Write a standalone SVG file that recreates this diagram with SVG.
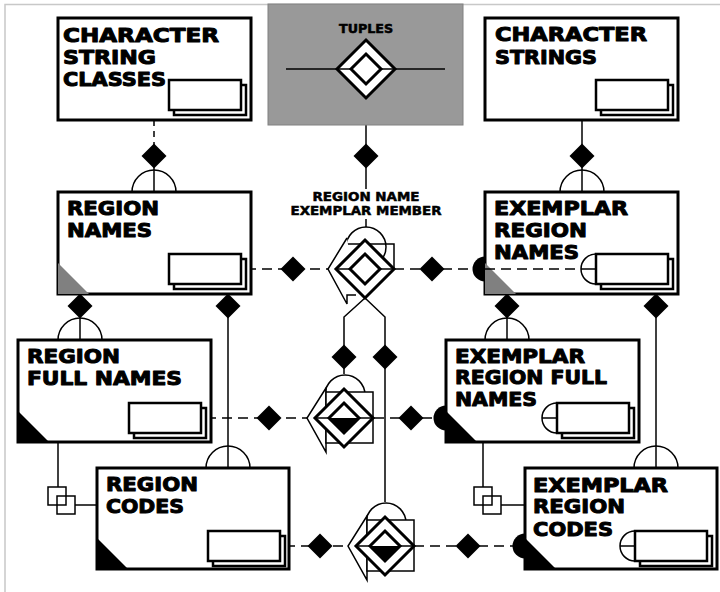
<svg xmlns="http://www.w3.org/2000/svg" width="720" height="592" viewBox="0 0 720 592">
<style>
.frame{fill:none;stroke:#c8c8c8;stroke-width:1.5}
.box{fill:#fff;stroke:#000;stroke-width:3}
.stk{fill:#fff;stroke:#000;stroke-width:2.5}
.ln{fill:none;stroke:#000;stroke-width:1.5}
.dash{fill:none;stroke:#000;stroke-width:1.5;stroke-dasharray:10 6}
.thick{fill:#fff;stroke:#000;stroke-width:3}
.lbl{font-family:"DejaVu Sans","Liberation Sans",sans-serif;font-weight:bold;font-size:19px;fill:#000;stroke:#000;stroke-width:1;stroke-linejoin:round}
.sm{font-family:"DejaVu Sans","Liberation Sans",sans-serif;font-weight:bold;font-size:11.5px;fill:#000;stroke:#000;stroke-width:0.5;text-anchor:middle}
.gtri{fill:#808080}
.btri{fill:#000}
</style>
<defs>
  <polygon id="dia" points="0,-12.5 12.5,0 0,12.5 -12.5,0" fill="#000"/>
  <g id="stack">
    <rect x="5" y="5" width="72" height="30" class="stk"/>
    <rect x="0" y="0" width="72" height="30" class="stk"/>
  </g>
  <path id="cap" d="M-22,0 A22,22 0 0 1 22,0" class="ln"/>
  <path id="disc" d="M0,-12.5 A12.5,12.5 0 0 0 0,12.5 Z" fill="#000"/>
  <path id="half" d="M0,-15 A15,15 0 0 0 0,15 M-15,0 H0" class="ln"/>
  <polygon id="tri" points="0,-31 0,0 31,0"/>
  <!-- ring, tag and outer diamond of the subtype symbols -->
  <g id="member">
    <circle cx="1" cy="-23" r="20" class="ln"/>
    <polygon points="-18,-30 -37,0 -18,34" fill="#fff" stroke="#000" stroke-width="1.5"/>
    <rect x="-18" y="-26" width="47" height="51" fill="#fff" stroke="#000" stroke-width="1.5"/>
    <polygon points="0,-29 29,0 0,29 -29,0" class="thick"/>
    <line x1="-29" y1="0" x2="29" y2="0" class="ln"/>
  </g>
  <polygon id="outer" points="0,-29 29,0 0,29 -29,0" class="thick"/>
  <polygon id="inner" points="0,-15 15,0 0,15 -15,0" class="thick"/>
  <g id="innerHalf">
    <polygon points="0,-15 15,0 0,15 -15,0" fill="#fff"/>
    <polygon points="-15,0 15,0 0,15" fill="#000"/>
    <polygon points="0,-15 15,0 0,15 -15,0" fill="none" stroke="#000" stroke-width="3"/>
  </g>
  <g id="sq2">
    <rect x="0" y="0" width="18" height="18" class="ln"/>
    <rect x="9" y="9" width="18" height="18" class="ln"/>
  </g>
</defs>

<path class="frame" d="M5,592 V4.5 H720"/>

<!-- connectors -->
<g id="connectors">
  <!-- vertical links -->
  <line x1="154" y1="120" x2="154" y2="146" class="ln" stroke-dasharray="6 5"/>
  <line x1="154" y1="166" x2="154" y2="192" class="ln"/>
  <line x1="366" y1="98" x2="366" y2="189" class="ln"/>
  <line x1="366" y1="219" x2="366" y2="227" class="ln"/>
  <line x1="582" y1="120" x2="582" y2="192" class="ln"/>
  <line x1="80" y1="294" x2="80" y2="340" class="ln"/>
  <line x1="228" y1="294" x2="228" y2="468" class="ln"/>
  <line x1="507" y1="294" x2="507" y2="340" class="ln"/>
  <line x1="656" y1="294" x2="656" y2="468" class="ln"/>
  <polyline points="365,298 344,317 344,374" class="ln"/>
  <polyline points="365,298 385,317 385,502" class="ln"/>
  <polyline points="58,442 58,487" class="ln"/>
  <polyline points="75,505 97,505" class="ln"/>
  <polyline points="483,442 483,487" class="ln"/>
  <polyline points="501,505 525,505" class="ln"/>
  <!-- horizontal links -->
  <line x1="246" y1="269" x2="328" y2="269" class="dash"/>
  <line x1="394" y1="269" x2="581" y2="269" class="dash"/>
  <line x1="206" y1="418" x2="308" y2="418" class="dash"/>
  <line x1="374" y1="418" x2="446" y2="418" class="dash"/>
  <line x1="285" y1="546" x2="348" y2="546" class="dash"/>
  <line x1="414" y1="546" x2="525" y2="546" class="dash"/>
  <!-- cardinality diamonds -->
  <use href="#dia" x="154" y="156"/>
  <use href="#dia" x="366" y="156"/>
  <use href="#dia" x="582" y="156"/>
  <use href="#dia" x="80" y="306"/>
  <use href="#dia" x="228" y="306"/>
  <use href="#dia" x="507" y="306"/>
  <use href="#dia" x="656" y="306"/>
  <use href="#dia" x="293" y="269"/>
  <use href="#dia" x="432" y="269"/>
  <use href="#dia" x="269" y="418"/>
  <use href="#dia" x="411" y="418"/>
  <use href="#dia" x="320" y="546"/>
  <use href="#dia" x="468" y="546"/>
  <use href="#dia" x="344" y="357"/>
  <use href="#dia" x="385" y="357"/>
  <!-- subset caps -->
  <use href="#cap" x="154" y="192"/>
  <use href="#cap" x="582" y="192"/>
  <use href="#cap" x="80" y="340"/>
  <use href="#cap" x="507" y="340"/>
  <use href="#cap" x="228" y="468"/>
  <use href="#cap" x="656" y="468"/>
  <!-- double squares -->
  <use href="#sq2" x="48" y="487"/>
  <use href="#sq2" x="474" y="487"/>
</g>

<!-- tuples -->
<g id="tuples">
  <rect x="268" y="4" width="195" height="121" fill="#999" stroke="#808080" stroke-width="1"/>
  <text class="sm" x="366" y="33" font-size="10.5" textLength="54" lengthAdjust="spacingAndGlyphs">TUPLES</text>
  <use href="#outer" x="366" y="69"/>
  <line x1="286" y1="69" x2="445" y2="69" class="ln"/>
  <use href="#inner" x="366" y="69"/>
</g>

<!-- region name exemplar member -->
<g id="exemplar-member">
  <text class="sm" x="366" y="201" textLength="107" lengthAdjust="spacingAndGlyphs">REGION NAME</text>
  <text class="sm" x="366" y="215" textLength="151" lengthAdjust="spacingAndGlyphs">EXEMPLAR MEMBER</text>
  <circle cx="366" cy="247" r="20" class="ln"/>
  <path d="M347,244 H394 V269" class="ln"/>
  <path d="M347,238 L328,269 L347,304 V295 H356" fill="#fff" stroke="#000" stroke-width="1.5"/>
  <use href="#outer" x="365" y="269"/>
  <line x1="336" y1="269" x2="394" y2="269" class="ln"/>
  <use href="#inner" x="365" y="269"/>
</g>
<g id="full-name-member">
  <use href="#member" x="344" y="418"/>
  <use href="#innerHalf" x="344" y="418"/>
</g>
<g id="code-member">
  <use href="#member" x="385" y="546"/>
  <use href="#innerHalf" x="385" y="546"/>
</g>

<!-- entity boxes -->
<g id="character-string-classes">
  <rect x="58" y="18" width="193" height="102" class="box"/>
  <text class="lbl" x="63" y="42" textLength="156" lengthAdjust="spacingAndGlyphs">CHARACTER</text>
  <text class="lbl" x="63" y="64" textLength="93" lengthAdjust="spacingAndGlyphs">STRING</text>
  <text class="lbl" x="63" y="86" textLength="103" lengthAdjust="spacingAndGlyphs">CLASSES</text>
  <use href="#stack" x="169" y="80"/>
</g>
<g id="character-strings">
  <rect x="485" y="18" width="193" height="102" class="box"/>
  <text class="lbl" x="495" y="41" textLength="152" lengthAdjust="spacingAndGlyphs">CHARACTER</text>
  <text class="lbl" x="495" y="64" textLength="102" lengthAdjust="spacingAndGlyphs">STRINGS</text>
  <use href="#stack" x="596" y="80"/>
</g>
<g id="region-names">
  <rect x="58" y="192" width="193" height="102" class="box"/>
  <use href="#tri" x="58" y="294" class="gtri"/>
  <text class="lbl" x="67" y="215" textLength="92" lengthAdjust="spacingAndGlyphs">REGION</text>
  <text class="lbl" x="67" y="237" textLength="85" lengthAdjust="spacingAndGlyphs">NAMES</text>
  <use href="#stack" x="169" y="254"/>
</g>
<g id="exemplar-region-names">
  <rect x="485" y="192" width="193" height="102" class="box"/>
  <use href="#tri" x="485" y="294" class="gtri"/>
  <line x1="485" y1="269" x2="581" y2="269" class="dash"/>
  <text class="lbl" x="494" y="215" textLength="134" lengthAdjust="spacingAndGlyphs">EXEMPLAR</text>
  <text class="lbl" x="494" y="237" textLength="93" lengthAdjust="spacingAndGlyphs">REGION</text>
  <text class="lbl" x="494" y="259" textLength="85" lengthAdjust="spacingAndGlyphs">NAMES</text>
  <use href="#disc" x="485" y="269"/>
  <use href="#half" x="596" y="269"/>
  <use href="#stack" x="596" y="254"/>
</g>
<g id="region-full-names">
  <rect x="18" y="340" width="193" height="102" class="box"/>
  <use href="#tri" x="18" y="442" class="btri"/>
  <text class="lbl" x="27" y="363" textLength="93" lengthAdjust="spacingAndGlyphs">REGION</text>
  <text class="lbl" x="27" y="385" textLength="155" lengthAdjust="spacingAndGlyphs">FULL NAMES</text>
  <use href="#stack" x="129" y="403"/>
</g>
<g id="exemplar-region-full-names">
  <rect x="446" y="340" width="193" height="102" class="box"/>
  <use href="#tri" x="446" y="442" class="btri"/>
  <text class="lbl" x="455" y="363" textLength="130" lengthAdjust="spacingAndGlyphs">EXEMPLAR</text>
  <text class="lbl" x="455" y="384" textLength="152" lengthAdjust="spacingAndGlyphs">REGION FULL</text>
  <text class="lbl" x="455" y="406" textLength="82" lengthAdjust="spacingAndGlyphs">NAMES</text>
  <use href="#disc" x="446" y="418"/>
  <use href="#half" x="557" y="418"/>
  <use href="#stack" x="557" y="403"/>
</g>
<g id="region-codes">
  <rect x="97" y="468" width="192" height="101" class="box"/>
  <use href="#tri" x="97" y="569" class="btri"/>
  <text class="lbl" x="106" y="491" textLength="92" lengthAdjust="spacingAndGlyphs">REGION</text>
  <text class="lbl" x="106" y="513" textLength="78" lengthAdjust="spacingAndGlyphs">CODES</text>
  <use href="#stack" x="208" y="531"/>
</g>
<g id="exemplar-region-codes">
  <rect x="525" y="468" width="192" height="101" class="box"/>
  <use href="#tri" x="525" y="569" class="btri"/>
  <text class="lbl" x="533" y="492" textLength="135" lengthAdjust="spacingAndGlyphs">EXEMPLAR</text>
  <text class="lbl" x="533" y="513" textLength="92" lengthAdjust="spacingAndGlyphs">REGION</text>
  <text class="lbl" x="533" y="536" textLength="80" lengthAdjust="spacingAndGlyphs">CODES</text>
  <use href="#disc" x="525" y="546"/>
  <use href="#half" x="635" y="546"/>
  <use href="#stack" x="635" y="531"/>
</g>
</svg>
